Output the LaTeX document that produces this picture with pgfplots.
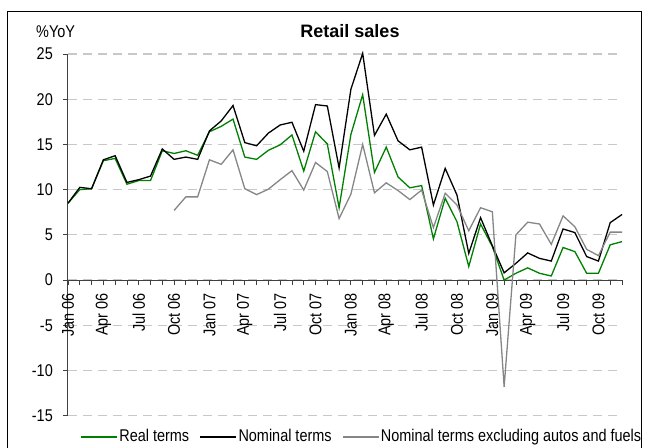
\documentclass[border=0pt]{standalone}
\usepackage{pgfplots}
\pgfplotsset{compat=1.18}
\usepackage{pgfplotstable}
\usepackage{fontspec}
\setmainfont{Liberation Sans}[FakeStretch=0.85]
\newfontfamily\titlefont{Liberation Sans}
\definecolor{realgreen}{RGB}{0,128,0}
\definecolor{gridgray}{RGB}{200,200,200}
\definecolor{exgray}{RGB}{134,134,134}

\pgfplotstableread{
i real nominal
0 8.5 8.5
1 10.0 10.25
2 10.1 10.1
3 13.2 13.3
4 13.45 13.75
5 10.6 10.8
6 11.0 11.1
7 11.0 11.5
8 14.3 14.5
9 14.0 13.35
10 14.3 13.6
11 13.8 13.35
12 16.4 16.5
13 17.0 17.6
14 17.8 19.3
15 13.6 15.2
16 13.35 14.85
17 14.35 16.25
18 14.95 17.15
19 16.05 17.45
20 12.05 14.25
21 16.4 19.4
22 15.05 19.25
23 8.0 12.4
24 16.1 21.1
25 20.5 25.07
26 11.9 16.0
27 14.7 18.35
28 11.4 15.4
29 10.2 14.4
30 10.45 14.7
31 4.55 8.3
32 9.05 12.35
33 6.45 9.4
34 1.5 2.95
35 6.2 6.9
36 3.7 3.8
37 0.0 0.8
38 0.75 1.85
39 1.35 3.0
40 0.75 2.4
41 0.45 2.1
42 3.6 5.65
43 3.15 5.25
44 0.75 2.6
45 0.75 2.1
46 3.9 6.35
47 4.25 7.25
}\retail

\pgfplotstableread{
i ex
9 7.7
10 9.2
11 9.2
12 13.3
13 12.8
14 14.4
15 10.1
16 9.45
17 10.05
18 11.1
19 12.1
20 9.95
21 13.0
22 12.0
23 6.8
24 9.5
25 15.0
26 9.65
27 10.75
28 9.9
29 8.9
30 9.95
31 5.8
32 9.6
33 8.3
34 5.45
35 8.0
36 7.55
37 -11.8
38 5.0
39 6.4
40 6.2
41 3.95
42 7.1
43 5.9
44 3.4
45 2.7
46 5.3
47 5.3
}\retailex

\begin{document}
\fontsize{17bp}{20bp}\selectfont
\begin{tikzpicture}
\useasboundingbox (-68bp,-32.3bp) rectangle (581bp,415.7bp);
\begin{axis}[
  at={(0,0)}, anchor=south west, scale only axis,
  width=554bp, height=361.7bp,
  xmin=0, xmax=47, ymin=-15, ymax=25,
  axis y line=left, axis x line=middle,
  axis line style={-, draw=black!75, line width=1bp},
  xtick={0,3,...,45},
  xticklabels={Jan 06,Apr 06,Jul 06,Oct 06,Jan 07,Apr 07,Jul 07,Oct 07,Jan 08,Apr 08,Jul 08,Oct 08,Jan 09,Apr 09,Jul 09,Oct 09},
  minor xtick={0,...,47},
  ytick={-15,-10,...,25},
  tick align=outside,
  major tick length=5bp, minor tick length=5bp,
  tick style={black!75, line width=0.8bp},
  ymajorgrids,
  grid style={gridgray, line width=1.2bp, dash pattern=on 9bp off 6bp},
  xticklabel style={rotate=90, anchor=east, inner sep=0pt, xshift=-8bp},
  yticklabel style={anchor=east, inner sep=0pt, xshift=-10bp},
  hide obscured x ticks=false, hide obscured y ticks=false,
  /pgf/number format/assume math mode=true,
  legend columns=3,
  legend style={draw=none, fill=none, at={(0.53,-0.059)}, anchor=center,
    inner sep=0pt, /tikz/every even column/.append style={column sep=9bp},
    nodes={inner sep=1.5bp}},
  legend image code/.code={\draw[#1] (0bp,0bp) -- (36bp,0bp);},
  clip=false,
]
\addplot[realgreen, line width=1.3bp] table[x=i, y=real]{\retail};
\addlegendentry{Real terms}
\addplot[black, line width=1.3bp] table[x=i, y=nominal]{\retail};
\addlegendentry{Nominal terms}
\addplot[exgray, line width=1.3bp] table[x=i, y=ex]{\retailex};
\addlegendentry{Nominal terms excluding autos and fuels}
\end{axis}
\node[font={\fontsize{18bp}{20bp}\titlefont\bfseries}, anchor=base] at (282bp,378.4bp) {Retail sales};
\node[anchor=base west, inner sep=0pt] at (-32bp,378.4bp) {\%YoY};
\draw[black, line width=1bp] (-60bp,-40bp) -- (-60bp,403.7bp) -- (573bp,403.7bp) -- (573bp,-40bp);
\end{tikzpicture}
\end{document}
